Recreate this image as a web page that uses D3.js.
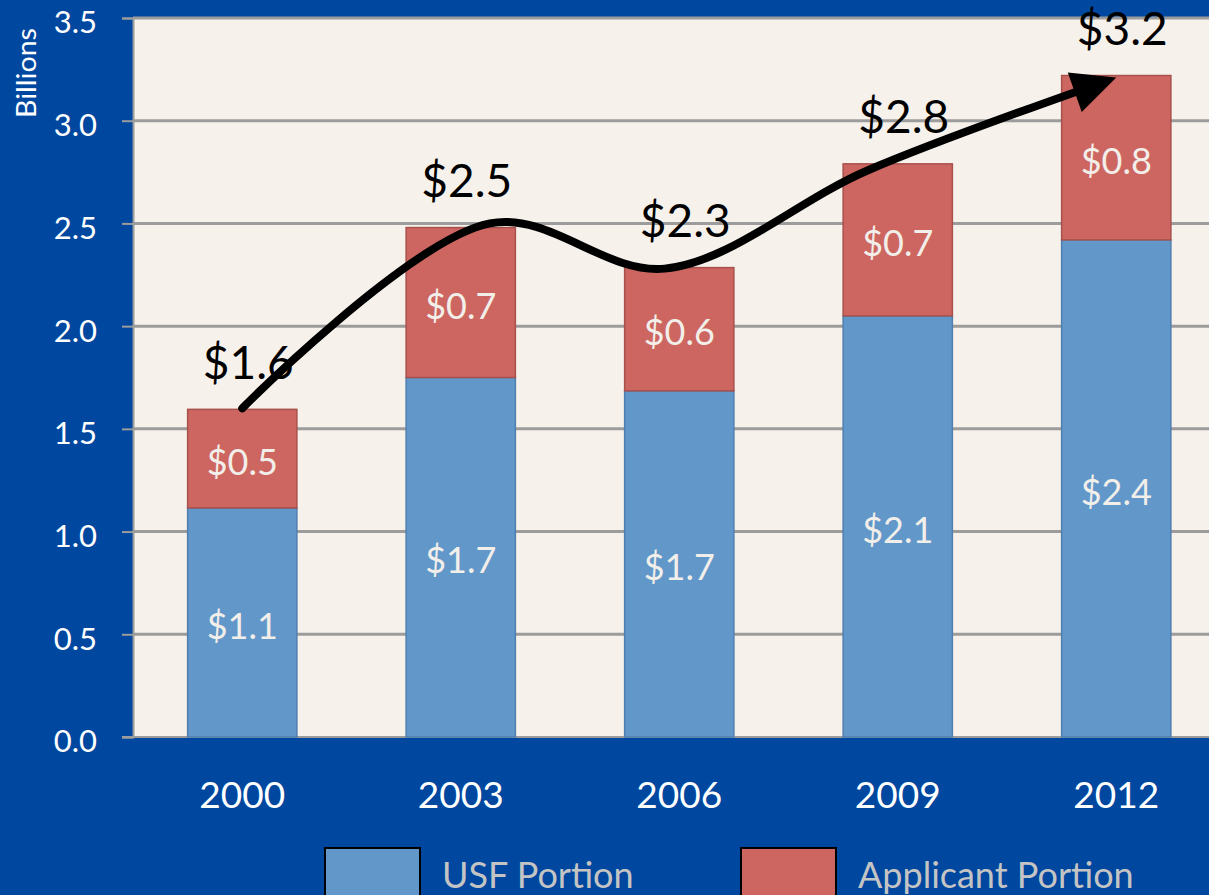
<!DOCTYPE html>
<html>
<head>
<meta charset="utf-8">
<script src="https://cdn.jsdelivr.net/npm/d3@7"></script>
<style>
  html, body { margin: 0; padding: 0; background: #0047a0; overflow: hidden; }
  svg { display: block; font-family: Lato, 'Open Sans', sans-serif; }
</style>
</head>
<body>
<svg id="chart" width="1209" height="895"></svg>
<script>
// Data (billions of dollars)
const years = ['2000', '2003', '2006', '2009', '2012'];
const usfPortion = [1.115, 1.75, 1.685, 2.05, 2.42];
const applicantPortion = [0.48, 0.73, 0.6, 0.74, 0.8];
const usfLabels = ['$1.1', '$1.7', '$1.7', '$2.1', '$2.4'];
const applicantLabels = ['$0.5', '$0.7', '$0.6', '$0.7', '$0.8'];
const totalLabels = ['$1.6', '$2.5', '$2.3', '$2.8', '$3.2'];
const yTicks = [0, 0.5, 1, 1.5, 2, 2.5, 3, 3.5];
const seriesNames = ['USF Portion', 'Applicant Portion'];

// hand-drawn trend arrow, in (year, value) terms
const trendYears = [2000, 2003.4, 2005.8, 2008.6, 2012];
const trendValues = [1.6, 2.5, 2.28, 2.76, 3.21];

const COL = {
  bg: '#0047a0',
  plot: '#f6f2eb',
  grid: '#9c9c9c',
  usf: '#6297c9', usfEdge: '#4f7fb0',
  app: '#cd6660', appEdge: '#a8504c',
};

const svg = d3.select('#chart');
const margin = { left: 133, top: 18, bottom: 737 };
const plotRight = 1225.5;

const x = d3.scaleBand().domain(years).range([margin.left, plotRight])
  .paddingInner(0.5).paddingOuter(0.25);
const y = d3.scaleLinear().domain([0, 3.5]).range([margin.bottom, margin.top]);
const xYear = d3.scaleLinear()
  .domain([2000, 2012])
  .range([x('2000') + x.bandwidth() / 2, x('2012') + x.bandwidth() / 2]);

svg.append('rect').attr('width', 1209).attr('height', 895).attr('fill', COL.bg);

// plot area
svg.append('rect')
  .attr('x', margin.left).attr('y', y(3.5))
  .attr('width', plotRight - margin.left).attr('height', y(0) - y(3.5))
  .attr('fill', COL.plot);

// gridlines
svg.append('g').selectAll('line')
  .data(yTicks.filter(d => d > 0))
  .join('line')
  .attr('x1', margin.left).attr('x2', plotRight)
  .attr('y1', d => y(d)).attr('y2', d => y(d))
  .attr('stroke', COL.grid).attr('stroke-width', 3);

// y axis
const yAxis = svg.append('g')
  .attr('transform', `translate(${margin.left},0)`)
  .call(d3.axisLeft(y).tickValues(yTicks).tickFormat(d3.format('.1f')).tickSize(11).tickPadding(25));
yAxis.select('.domain').attr('stroke', COL.grid).attr('stroke-width', 2);
yAxis.selectAll('.tick line').attr('stroke', COL.grid).attr('stroke-width', 2);
yAxis.selectAll('.tick text')
  .attr('fill', '#fff').attr('font-size', 31).attr('font-family', 'Lato, sans-serif')
  .attr('dy', '0.48em');

// bottom axis line
svg.append('line')
  .attr('x1', margin.left - 11).attr('x2', plotRight)
  .attr('y1', y(0)).attr('y2', y(0))
  .attr('stroke', COL.grid).attr('stroke-width', 2);

svg.append('text')
  .attr('transform', `translate(36,${(28 + 118) / 2}) rotate(-90)`)
  .attr('text-anchor', 'middle')
  .attr('fill', '#fff').attr('font-size', 27)
  .attr('textLength', 90).attr('lengthAdjust', 'spacingAndGlyphs')
  .text('Billions');

// x labels
svg.append('g').selectAll('text')
  .data(years)
  .join('text')
  .attr('x', d => x(d) + x.bandwidth() / 2)
  .attr('y', 808)
  .attr('text-anchor', 'middle')
  .attr('fill', '#fff').attr('font-size', 37)
  .text(d => d);

// stacked bars
const rows = years.map((yr, i) => ({ year: yr, usf: usfPortion[i], app: applicantPortion[i] }));
const stack = d3.stack().keys(['usf', 'app'])(rows);
const fills = [COL.usf, COL.app];
const edges = [COL.usfEdge, COL.appEdge];
const segLabels = [usfLabels, applicantLabels];

stack.forEach((layer, k) => {
  const g = svg.append('g');
  g.selectAll('rect')
    .data(layer)
    .join('rect')
    .attr('x', d => x(d.data.year))
    .attr('y', d => y(d[1]))
    .attr('width', x.bandwidth())
    .attr('height', d => y(d[0]) - y(d[1]))
    .attr('fill', fills[k])
    .attr('stroke', edges[k]).attr('stroke-width', 1.5);
  g.selectAll('text')
    .data(layer)
    .join('text')
    .attr('x', d => x(d.data.year) + x.bandwidth() / 2)
    .attr('y', d => (y(d[0]) + y(d[1])) / 2)
    .attr('dy', '0.45em')
    .attr('text-anchor', 'middle')
    .attr('fill', '#f2eee9').attr('font-size', 36)
    .text((d, i) => segLabels[k][i]);
});

// totals above bars
svg.append('g').selectAll('text')
  .data(rows)
  .join('text')
  .attr('x', d => x(d.year) + x.bandwidth() / 2 + 6)
  .attr('y', d => y(d.usf + d.app) - 47)
  .attr('dy', '0.36em')
  .attr('text-anchor', 'middle')
  .attr('fill', '#000').attr('font-size', 46)
  .text((d, i) => totalLabels[i]);

// trend arrow: curve, shaft stopped short so the head's tip lands on the last point
const trend = trendYears.map((t, i) => [xYear(t), y(trendValues[i])]);
const shaft = svg.append('path')
  .datum(trend)
  .attr('d', d3.line().curve(d3.curveCatmullRom.alpha(0.5)))
  .attr('fill', 'none')
  .attr('stroke', '#000').attr('stroke-width', 8)
  .attr('stroke-linecap', 'round');
const pathNode = shaft.node();
const L = pathNode.getTotalLength();
shaft.attr('stroke-dasharray', `${L - 36} 2000`);
const tip = pathNode.getPointAtLength(L);
const back = pathNode.getPointAtLength(L - 40);
const ang = Math.atan2(tip.y - back.y, tip.x - back.x) * 180 / Math.PI;
svg.append('path')
  .attr('d', 'M0,0 L-44,-21 L-44,21 Z')
  .attr('fill', '#000')
  .attr('transform', `translate(${tip.x},${tip.y}) rotate(${ang})`);

// legend
const legend = svg.append('g');
const legendX = [325, 741];
seriesNames.forEach((name, i) => {
  legend.append('rect')
    .attr('x', legendX[i]).attr('y', 848)
    .attr('width', 95).attr('height', 60)
    .attr('fill', fills[i])
    .attr('stroke', '#000').attr('stroke-width', 2);
  legend.append('text')
    .attr('x', legendX[i] + 117).attr('y', 888)
    .attr('fill', '#c4c4c4').attr('font-size', 36)
    .text(name);
});
</script>
</body>
</html>
